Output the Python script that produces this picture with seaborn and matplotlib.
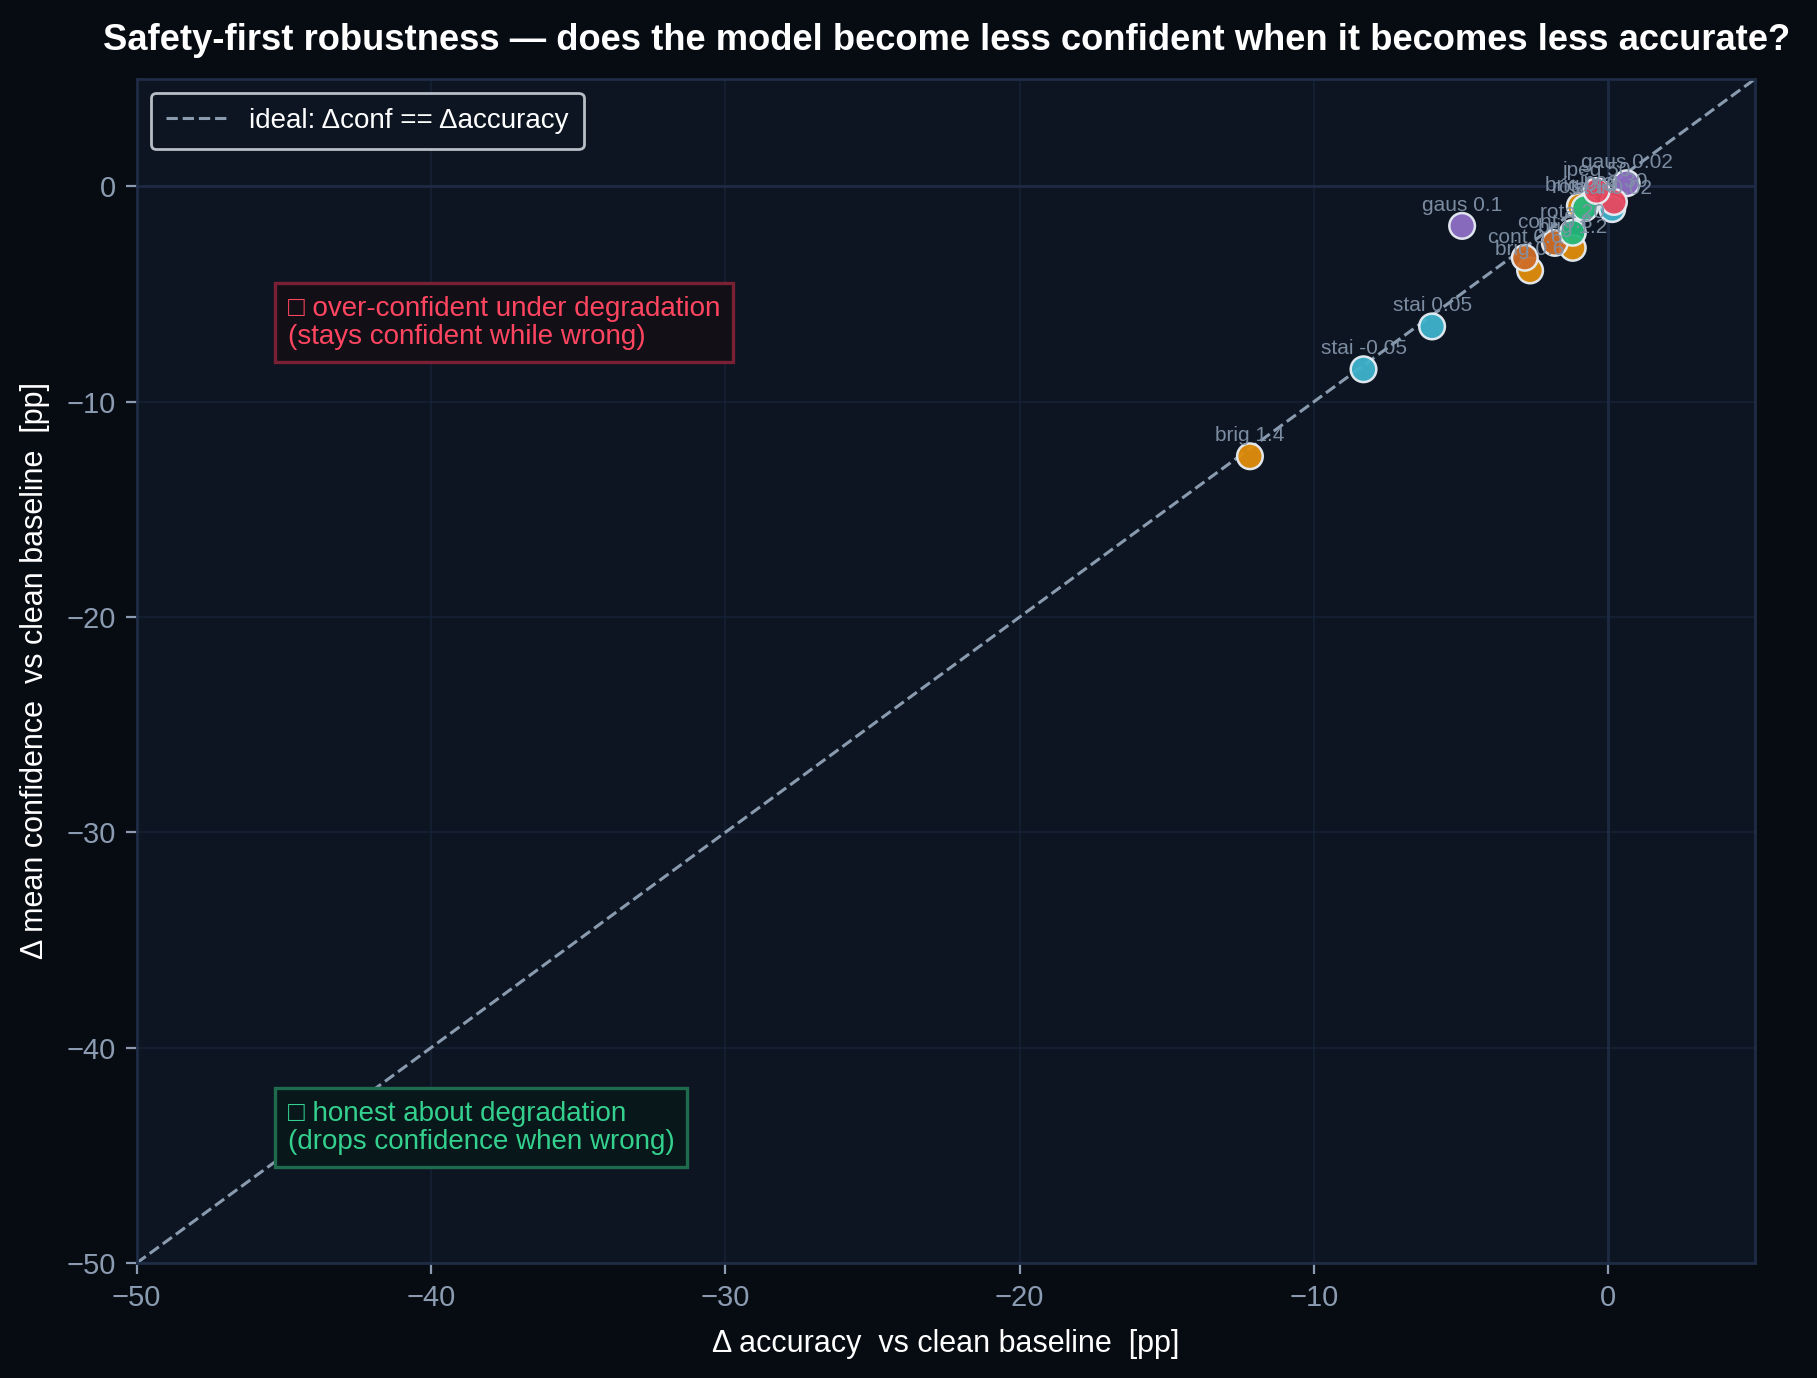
import matplotlib
matplotlib.use("Agg")
import matplotlib.pyplot as plt
import seaborn as sns
import pandas as pd

sns.set_theme(style="dark")
plt.rcParams['font.family'] = ['Liberation Sans', 'DejaVu Sans']

# ---- data ----
labels = ["gaus 0.02", "brig 1.4", "stai -0.05", "stai 0.05", "gaus 0.1", "brig 0.6",
          "cont 0.6", "brig 1.2", "cont 0.8", "rota 20", "brig 0.8", "rota 10",
          "stai 0.02", "jpeg 30", "jpeg 50"]
family = ["gaus", "brig", "stai", "stai", "gaus", "brig",
          "cont", "brig", "cont", "rota", "brig", "rota",
          "stai", "jpeg", "jpeg"]
d_acc = [0.63, -12.17, -8.31, -5.98, -4.96, -2.65,
         -2.83, -1.20, -1.81, -1.20, -0.96, -0.79,
         0.14, 0.20, -0.39]
d_conf = [0.15, -12.53, -8.49, -6.50, -1.83, -3.90,
          -3.31, -2.85, -2.62, -2.15, -0.91, -1.00,
          -1.05, -0.72, -0.21]
palette = {"brig": "#e08e0b", "stai": "#3fb3cc", "gaus": "#8f6fc4",
           "cont": "#cf6d28", "rota": "#25b97c", "jpeg": "#e8485f"}

df = pd.DataFrame({"label": labels, "family": family, "dacc": d_acc, "dconf": d_conf})

FIG_BG = "#070b12"
AX_BG = "#0c1521"
GRID = "#17233a"
TEXT = "#ffffff"
TICK = "#8b9bb1"

fig = plt.figure(figsize=(9.085, 6.89), dpi=200, facecolor=FIG_BG)
ax = fig.add_axes([0.0752, 0.0834, 0.8908, 0.8594])
ax.set_facecolor(AX_BG)

ax.set_xlim(-50, 5)
ax.set_ylim(-50, 5)
ax.grid(True, color=GRID, linewidth=0.6, alpha=0.8)
ax.axhline(0, color="#1d2a42", linewidth=1.0, zorder=1)
ax.axvline(0, color="#1d2a42", linewidth=1.0, zorder=1)

ax.plot([-50, 5], [-50, 5], linestyle="--", color="#8a9bb0", linewidth=1.1,
        label="ideal: Δconf == Δaccuracy", zorder=2)

sns.scatterplot(data=df, x="dacc", y="dconf", hue="family", palette=palette,
                s=85, edgecolor="#e8eef5", linewidth=0.9, alpha=0.95,
                ax=ax, legend=False, zorder=3)

for _, r in df.iterrows():
    ax.annotate(r["label"], (r["dacc"], r["dconf"]), xytext=(0, 4),
                textcoords="offset points", ha="center", va="bottom",
                fontsize=7.5, color="#8292a8", alpha=0.95, zorder=4)

ax.text(0.0935, 0.817, "□ over-confident under degradation\n(stays confident while wrong)",
        transform=ax.transAxes, ha="left", va="top", fontsize=10, color="#ff4560",
        linespacing=1.1,
        bbox=dict(boxstyle="square,pad=0.45", facecolor="#120f16", edgecolor="#7a2035",
                  linewidth=1.2))
ax.text(0.0935, 0.137, "□ honest about degradation\n(drops confidence when wrong)",
        transform=ax.transAxes, ha="left", va="top", fontsize=10, color="#34d08e",
        linespacing=1.1,
        bbox=dict(boxstyle="square,pad=0.45", facecolor="#08171a", edgecolor="#1f6b4e",
                  linewidth=1.2))

leg = ax.legend(loc="upper left", fontsize=10, frameon=True, facecolor=AX_BG,
                edgecolor="#b8bec6", labelcolor=TEXT, handlelength=2.2, borderpad=0.55)
leg.get_frame().set_linewidth(1.0)
leg.get_frame().set_alpha(1.0)

ax.set_xlabel("Δ accuracy  vs clean baseline  [pp]", color=TEXT, fontsize=11, labelpad=6)
ax.set_ylabel("Δ mean confidence  vs clean baseline  [pp]", color=TEXT, fontsize=11, labelpad=6)
ax.tick_params(colors=TICK, labelsize=10.5, length=4, width=0.8, bottom=True, left=True)
ax.set_xticks([-50, -40, -30, -20, -10, 0])
ax.set_yticks([-50, -40, -30, -20, -10, 0])
for sp in ax.spines.values():
    sp.set_color("#1e2c45")
    sp.set_linewidth(1.0)

fig.suptitle("Safety-first robustness — does the model become less confident when it becomes less accurate?",
             color=TEXT, fontsize=13.1, fontweight="bold", x=0.521, y=0.983)

fig.savefig("out.png", dpi=200, facecolor=FIG_BG)
